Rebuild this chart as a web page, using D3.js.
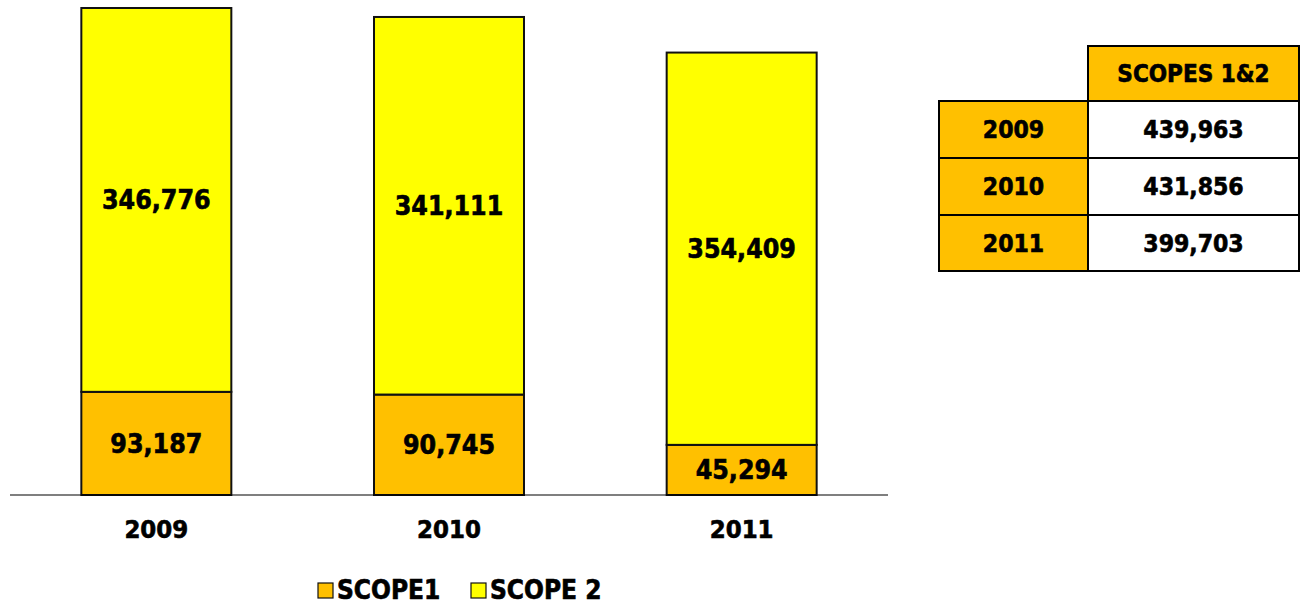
<!DOCTYPE html>
<html>
<head>
<meta charset="utf-8">
<style>
body { margin: 0; background: #fff; }
svg { font-family: "DejaVu Sans Condensed", "DejaVu Sans", Verdana, sans-serif; font-stretch: condensed; font-weight: bold; }
svg text { stroke: #000; stroke-width: 0.6px; fill: #000; }
</style>
</head>
<body>
<svg width="1305" height="606"></svg>
<script src="https://d3js.org/d3.v7.min.js"></script>
<script>
// data
var years = ["2009", "2010", "2011"];
var scope1 = [93187, 90745, 45294];
var scope2 = [346776, 341111, 354409];
var totals = [439963, 431856, 399703];
var seriesNames = ["SCOPE1", "SCOPE 2"];
var tableHeader = "SCOPES 1&2";

var orange = "#FFC000", yellow = "#FFFF00";
var fmt = d3.format(",");

var svg = d3.select("svg");

var x = d3.scaleBand()
    .domain(years)
    .range([10, 888])
    .paddingInner(0.4875)
    .paddingOuter(0.24375);

var y = d3.scaleLinear()
    .domain([0, 439963])
    .range([495, 8]);

var data = years.map(function(d, i) { return {year: d, s1: scope1[i], s2: scope2[i]}; });
var stack = d3.stack().keys(["s1", "s2"])(data);
var colors = [orange, yellow];

var g = svg.append("g");

stack.forEach(function(layer, li) {
  g.append("g")
    .selectAll("rect")
    .data(layer)
    .enter().append("rect")
      .attr("x", function(d) { return x(d.data.year); })
      .attr("y", function(d) { return y(d[1]); })
      .attr("width", x.bandwidth())
      .attr("height", function(d) { return y(d[0]) - y(d[1]); })
      .attr("fill", colors[li])
      .attr("stroke", "#111")
      .attr("stroke-width", 2);

  g.append("g")
    .selectAll("text")
    .data(layer)
    .enter().append("text")
      .attr("x", function(d) { return x(d.data.year) + x.bandwidth() / 2; })
      .attr("y", function(d) { return (y(d[0]) + y(d[1])) / 2; })
      .attr("dy", "0.36em")
      .attr("text-anchor", "middle")
      .attr("font-size", 26.5)
      .text(function(d) { return fmt(d[1] - d[0]); });
});

// baseline
svg.append("line")
  .attr("x1", 10).attr("x2", 888)
  .attr("y1", y(0)).attr("y2", y(0))
  .attr("stroke", "#000").attr("stroke-width", 1.2);

// year labels
svg.append("g")
  .selectAll("text")
  .data(years)
  .enter().append("text")
    .attr("x", function(d) { return x(d) + x.bandwidth() / 2; })
    .attr("y", 529)
    .attr("dy", "0.36em")
    .attr("text-anchor", "middle")
    .attr("font-size", 25.5)
    .text(function(d) { return d; });

// legend
var legendX = [318, 471];
var legend = svg.append("g")
  .selectAll("g")
  .data(seriesNames)
  .enter().append("g")
    .attr("transform", function(d, i) { return "translate(" + legendX[i] + ",583)"; });
legend.append("rect")
  .attr("width", 15).attr("height", 15)
  .attr("fill", function(d, i) { return colors[i]; })
  .attr("stroke", "#111").attr("stroke-width", 1.2);
legend.append("text")
  .attr("x", 19)
  .attr("y", 16)
  .attr("font-size", 26)
  .text(function(d) { return d; });

// table
var colX = [939, 1088, 1299];
var rowY = [46, 101, 158, 215, 271];
var table = svg.append("g");

table.append("rect")
  .attr("x", colX[1]).attr("y", rowY[0])
  .attr("width", colX[2] - colX[1]).attr("height", rowY[1] - rowY[0])
  .attr("fill", orange).attr("stroke", "#000").attr("stroke-width", 2);
table.append("text")
  .attr("x", (colX[1] + colX[2]) / 2)
  .attr("y", (rowY[0] + rowY[1]) / 2)
  .attr("dy", "0.36em")
  .attr("text-anchor", "middle")
  .attr("font-size", 24)
  .text(tableHeader);

var rows = table.selectAll("g.row")
  .data(years)
  .enter().append("g")
    .attr("class", "row");
rows.append("rect")
  .attr("x", colX[0])
  .attr("y", function(d, i) { return rowY[i + 1]; })
  .attr("width", colX[1] - colX[0])
  .attr("height", function(d, i) { return rowY[i + 2] - rowY[i + 1]; })
  .attr("fill", orange).attr("stroke", "#000").attr("stroke-width", 2);
rows.append("rect")
  .attr("x", colX[1])
  .attr("y", function(d, i) { return rowY[i + 1]; })
  .attr("width", colX[2] - colX[1])
  .attr("height", function(d, i) { return rowY[i + 2] - rowY[i + 1]; })
  .attr("fill", "#fff").attr("stroke", "#000").attr("stroke-width", 2);
rows.append("text")
  .attr("x", (colX[0] + colX[1]) / 2)
  .attr("y", function(d, i) { return (rowY[i + 1] + rowY[i + 2]) / 2; })
  .attr("dy", "0.36em")
  .attr("text-anchor", "middle")
  .attr("font-size", 24.5)
  .text(function(d) { return d; });
rows.append("text")
  .attr("x", (colX[1] + colX[2]) / 2)
  .attr("y", function(d, i) { return (rowY[i + 1] + rowY[i + 2]) / 2; })
  .attr("dy", "0.36em")
  .attr("text-anchor", "middle")
  .attr("font-size", 24.5)
  .text(function(d, i) { return fmt(totals[i]); });
</script>
</body>
</html>
